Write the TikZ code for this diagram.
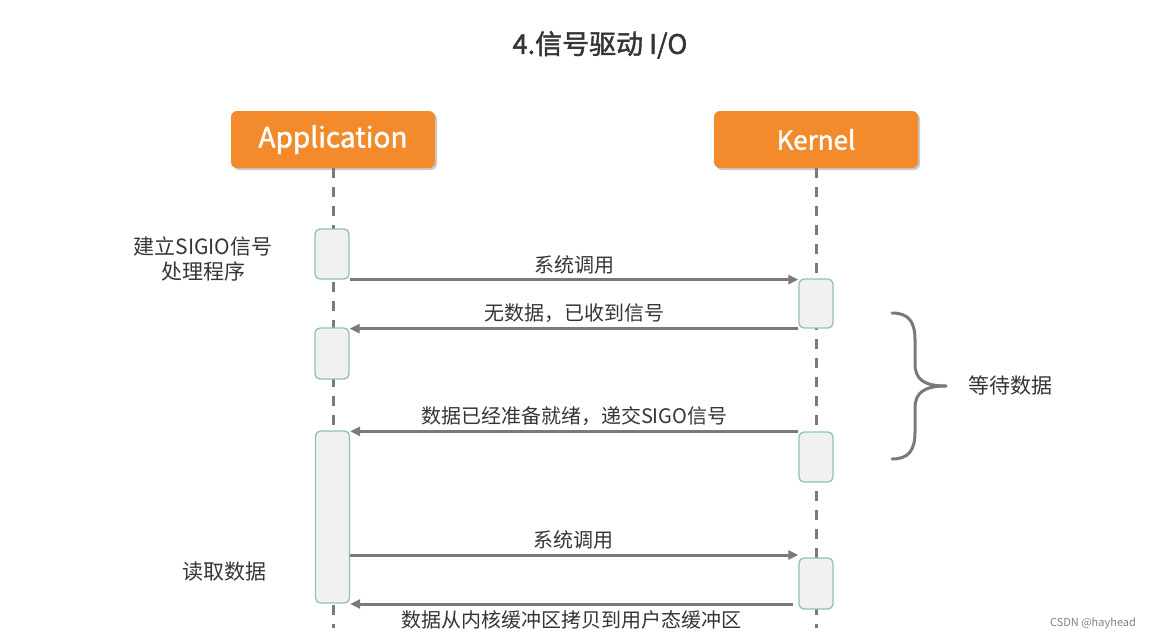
\documentclass[tikz,border=0pt]{standalone}
\usepackage{fontspec}
\setmainfont{Noto Sans CJK SC}
\newfontfamily\semibold{Noto Sans CJK SC}[FakeBold=1.6]
\usetikzlibrary{arrows.meta,shadows,calc}
\definecolor{orangebox}{HTML}{F38A2B}
\definecolor{actfill}{HTML}{F1F1F1}
\definecolor{actdraw}{HTML}{8EC3B4}
\definecolor{linegray}{HTML}{7A7A7A}
\definecolor{txtgray}{HTML}{353535}
\tikzset{
  actor/.style={draw=none, fill=orangebox, rounded corners=6pt, minimum width=204pt, minimum height=57pt,
    text=white, font=\semibold\fontsize{28}{30}\selectfont, drop shadow={shadow xshift=2pt, shadow yshift=-2pt, opacity=0.35, fill=black!60}},
  act/.style={draw=actdraw, fill=actfill, line width=1.3pt, rounded corners=5pt, minimum width=34pt, inner sep=0pt},
  life/.style={draw=linegray, line width=3pt, dash pattern=on 10pt off 9pt},
  msg/.style={draw=linegray, line width=3pt, -{Triangle[length=10pt,width=9pt]}},
  lbl/.style={text=txtgray, font=\fontsize{20}{22}\selectfont},
  side/.style={text=txtgray, font=\fontsize{21}{25}\selectfont, align=center},
}
\begin{document}
\begin{tikzpicture}[x=1pt,y=-1pt]
\useasboundingbox (0,0) rectangle (1156,640);
\node[text=txtgray, font=\semibold\fontsize{27}{30}\selectfont] (title) at (600,45) {4.信号驱动 I/O};
\node[actor] (app) at (333,139.5) {Application};
\node[actor, font=\semibold\fontsize{26}{28}\selectfont] (ker) at (816,139.5) {Kernel};
\coordinate (append) at (333,628);
\coordinate (kerend) at (816,628);
\draw[life] (app.south) -- (append);
\draw[life] (ker.south) -- (kerend);
% activations
\node[act, minimum height=50pt] (a1) at (332,254) {};
\node[act, minimum height=51pt] (a2) at (332,353.5) {};
\node[act, minimum height=172pt] (a3) at (332.5,517) {};
\node[act, minimum height=49pt] (k1) at (816,303.5) {};
\node[act, minimum height=50pt] (k2) at (816,457) {};
\node[act, minimum height=51pt] (k3) at (816,583.5) {};
% messages
\draw[msg] (a1.south east) -- (a1.south east -| k1.west) node[lbl, midway, above=1pt] {系统调用};
\draw[msg] (k1.south west) -- (k1.south west -| a2.east) node[lbl, midway, above=1pt] {无数据，已收到信号};
\draw[msg] (k2.north west) -- (k2.north west -| a3.east) node[lbl, midway, above=1pt] {数据已经准备就绪，递交SIGO信号};
\coordinate (c4) at (349.5,555);
\draw[msg] (c4) -- (c4 -| k3.west) node[lbl, midway, above=1pt] {系统调用};
\coordinate (c5) at (793,604);
\draw[msg] (c5) -- (c5 -| a3.east) node[lbl, midway, below=2pt] {数据从内核缓冲区拷贝到用户态缓冲区};
% side labels
\node[side] (l1) at (203,259) {建立SIGIO信号\\处理程序};
\node[side] (l2) at (224,572) {读取数据};
\node[side] (l3) at (1010,385) {等待数据};
% brace
\draw[linegray, line width=3pt, line cap=round]
  (892,313) .. controls (909,313) and (915,322) .. (915,340) -- (915,364)
  .. controls (915,380) and (925,386) .. (946,386);
\draw[linegray, line width=3pt, line cap=round]
  (946,386) .. controls (925,386) and (915,392) .. (915,408) -- (915,432)
  .. controls (915,450) and (909,459) .. (892,459);
\node[text=black!50, font=\fontsize{11}{13}\selectfont] (wm) at (1093,623) {CSDN @hayhead};
\end{tikzpicture}
\end{document}
